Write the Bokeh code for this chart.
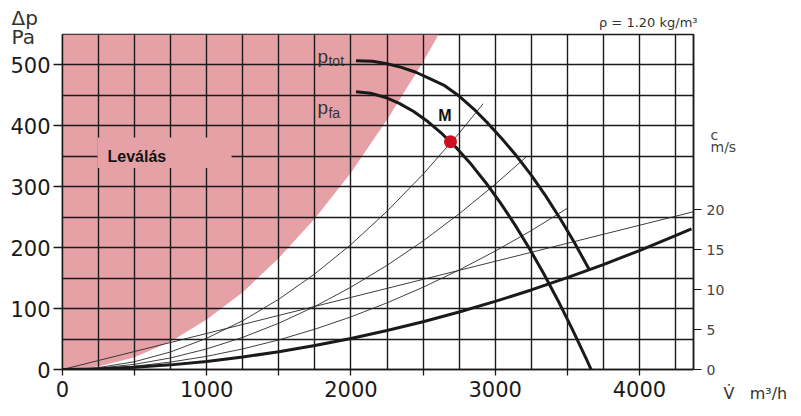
from bokeh.plotting import figure
from bokeh.models import Range1d, LinearAxis, FixedTicker, SingleIntervalTicker, Label
from bokeh.embed import file_html
from bokeh.resources import INLINE

# ---------------- data ----------------
x_ticks = [0, 500, 1000, 1500, 2000, 2500, 3000, 3500, 4000]
x_tick_labels = {0: "0", 500: "", 1000: "1000", 1500: "", 2000: "2000",
                 2500: "", 3000: "3000", 3500: "", 4000: "4000"}
y_ticks = [0, 100, 200, 300, 400, 500]
c_ticks = [0, 5, 10, 15, 20]

sep_x = [0, 250, 500, 750, 1000, 1250, 1500, 1750, 2000, 2250, 2500, 2608, 0]
sep_y = [0, 5, 20, 46, 82, 127, 183, 248, 323, 410, 505, 550, 550]

ptot_x = [2035, 2150, 2250, 2350, 2450, 2550, 2650, 2750, 2850, 2950, 3050,
          3150, 3250, 3350, 3450, 3550, 3650]
ptot_y = [507, 506, 502, 496, 488, 477, 466, 449, 428, 404, 378,
          350, 319, 285, 248, 208, 165]

pfa_x = [2035, 2135, 2235, 2335, 2435, 2535, 2635, 2735, 2835, 2935, 3035,
         3135, 3235, 3335, 3435, 3535, 3635, 3665]
pfa_y = [456, 453.6, 447, 437, 423.5, 406.6, 386.3, 363, 336.4, 306.7, 274,
         238.3, 199.6, 158, 113.4, 66, 15.7, 0]

pd_x = [0, 250, 500, 750, 1000, 1250, 1500, 1750, 2000, 2250, 2500, 2750,
        3000, 3250, 3500, 3750, 4000, 4250, 4361]
pd_y = [0, 0.9, 3.5, 7.6, 13.3, 20.5, 29.2, 39.3, 50.9, 64, 78.5, 94.4,
        111.8, 130.6, 150.8, 172.3, 195.3, 219.7, 231]

sys1_x = [0, 250, 500, 750, 1000, 1250, 1500, 1750, 2000, 2250, 2500, 2750, 2917]
sys1_y = [0, 3.2, 12.8, 28.9, 51.3, 80.2, 115.4, 157.1, 205.2, 259.7, 320.6, 388, 436.5]
sys2_x = [0, 250, 500, 750, 1000, 1250, 1500, 1750, 2000, 2250, 2500, 2750, 3000, 3215]
sys2_y = [0, 2.1, 8.5, 19, 33.8, 52.8, 76, 103.5, 135.2, 171, 211, 255.6, 304, 349]
sys3_x = [0, 250, 500, 750, 1000, 1250, 1500, 1750, 2000, 2250, 2500, 2750, 3000, 3250, 3505]
sys3_y = [0, 1.4, 5.4, 12.2, 21.6, 33.8, 48.6, 66.2, 86.4, 109.4, 135, 163.4, 194.4, 228, 265.4]

vel_x = [0, 4375]
vel_y = [0, 259]

m_x = [2690]
m_y = [374]

PINK = "#E6A1A7"
DARK = "#1a1a1a"

p = figure(width=801, height=416, output_backend="svg", toolbar_location=None,
           x_range=Range1d(0, 4375), y_range=Range1d(0, 550),
           min_border_left=62, min_border_right=108, min_border_top=33,
           min_border_bottom=47)
p.title.visible = False
p.extra_y_ranges = {"c": Range1d(0, 42)}

p.outline_line_color = DARK
p.outline_line_width = 1.5

p.xgrid.ticker = SingleIntervalTicker(interval=250)
p.ygrid.ticker = SingleIntervalTicker(interval=50)
for g in (p.xgrid, p.ygrid):
    g.grid_line_color = DARK
    g.grid_line_width = 1.4

p.patch(sep_x, sep_y, fill_color=PINK, line_color=None, level="image")

xa = p.xaxis[0]
xa.ticker = FixedTicker(ticks=x_ticks)
xa.major_label_overrides = x_tick_labels
ya = p.yaxis[0]
ya.ticker = FixedTicker(ticks=y_ticks)
for ax in (xa, ya):
    ax.axis_line_color = DARK
    ax.axis_line_width = 1.5
    ax.major_tick_line_color = DARK
    ax.major_tick_line_width = 1.3
    ax.major_tick_in = 0
    ax.minor_tick_line_color = None
    ax.major_label_text_font = "DejaVu Sans"
    ax.major_label_text_font_size = "21px"
    ax.major_label_text_color = "#1a1a1a"
xa.major_tick_out = 6
xa.major_label_standoff = 5
ya.major_tick_out = 9
ya.major_label_standoff = 3

ra = LinearAxis(y_range_name="c", ticker=FixedTicker(ticks=c_ticks))
ra.axis_line_color = DARK
ra.axis_line_width = 1.5
ra.major_tick_line_color = DARK
ra.major_tick_line_width = 1.2
ra.major_tick_in = 0
ra.major_tick_out = 8
ra.minor_tick_line_color = None
ra.major_label_standoff = 5
ra.major_label_text_font = "DejaVu Sans"
ra.major_label_text_font_size = "14px"
ra.major_label_text_color = "#444444"
p.add_layout(ra, "right")

p.quad(left=243, right=1172, bottom=331, top=381, fill_color=PINK, line_color=None)

for sx, sy in ((sys1_x, sys1_y), (sys2_x, sys2_y), (sys3_x, sys3_y), (vel_x, vel_y)):
    p.line(sx, sy, line_color="#2a2a2a", line_width=0.9)
p.line(pd_x, pd_y, line_color=DARK, line_width=3)
p.line(ptot_x, ptot_y, line_color=DARK, line_width=3)
p.line(pfa_x, pfa_y, line_color=DARK, line_width=3)

p.scatter(m_x, m_y, size=13, fill_color="#CC1020", line_color=None)

def mk(x, y, t, size, color="#222222", font="DejaVu Sans", style="normal",
       align="left", units="data", baseline="alphabetic", lh=1.2):
    return Label(x=x, y=y, text=t, text_font_size=size, text_color=color,
                 text_font=font, text_font_style=style, text_align=align,
                 text_baseline=baseline, x_units=units, y_units=units,
                 text_line_height=lh)

p.add_layout(mk(312, 350, "Leválás", "16px", color="#111111", font="Liberation Sans", style="bold"))
p.add_layout(mk(2652, 417, "M", "16px", color="#111111", font="Liberation Sans", style="bold", align="center"))
p.add_layout(mk(1768, 514, "p", "19px", color="#333333", font="Liberation Sans"))
p.add_layout(mk(1844, 507, "tot", "14px", color="#333333", font="Liberation Sans"))
p.add_layout(mk(1768, 430, "p", "19px", color="#333333", font="Liberation Sans"))
p.add_layout(mk(1844, 421, "fa", "14px", color="#333333", font="Liberation Sans"))

# texts outside the frame live in side panels (annotations in the centre are clipped)
p.add_layout(mk(635, 12, "ρ = 1.20 kg/m³", "13px", color="#333333", align="right", units="screen"), "above")
p.add_layout(mk(661, -374, "V̇\u00a0\u00a0\u00a0m³/h", "16px", color="#333333", units="screen"), "above")
p.add_layout(mk(-716, 364, "Δp\nPa", "20px", color="#333333", units="screen", baseline="top", lh=0.8), "right")
p.add_layout(mk(-43, 243, "c\nm/s", "14px", color="#444444", units="screen", baseline="top", lh=0.78), "right")

open("out.html", "w").write(file_html(p, INLINE))
